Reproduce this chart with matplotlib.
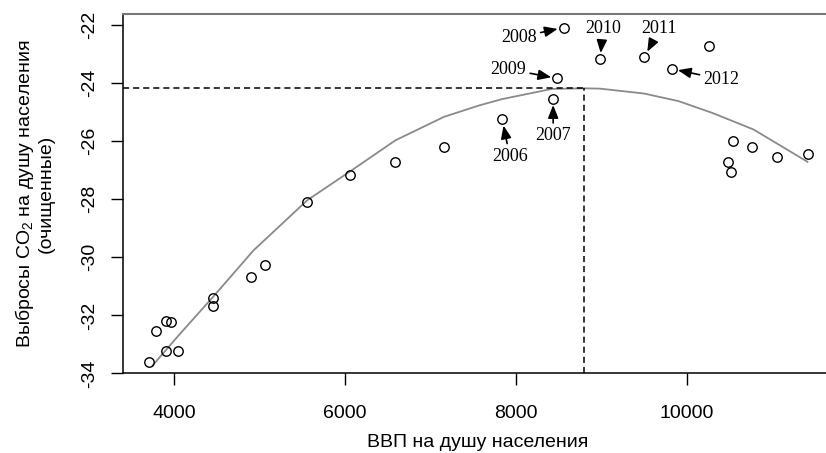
import matplotlib
matplotlib.use('Agg')
import matplotlib.pyplot as plt

# GDP per capita vs cleaned CO2 emissions per capita
gdp = [3711, 3786, 3903, 3910, 3961, 4047, 4459, 4459, 4896, 5060,
       5557, 6056, 6590, 7158, 7840, 8435, 8560, 8485, 8985, 9502,
       9822, 10262, 10479, 10518, 10536, 10758, 11054, 11414]
co2 = [-33.59, -32.55, -32.18, -33.21, -32.23, -33.21, -31.40, -31.66, -30.68, -30.25,
       -28.09, -27.15, -26.71, -26.20, -25.25, -24.54, -22.09, -23.84, -23.18, -23.11,
       -23.51, -22.72, -26.72, -27.06, -26.00, -26.21, -26.53, -26.44]
years = ['', '', '', '', '', '', '', '', '', '',
         '', '', '', '', '2006', '2007', '2008', '2009', '2010', '2011',
         '2012', '', '', '', '', '', '', '']

# fitted curve
fit_x = [3750, 4050, 4460, 4930, 5560, 6060, 6590, 7160, 7580, 7840, 8420, 8800,
         8980, 9500, 9900, 10300, 10780, 11410]
fit_y = [-33.72, -32.7, -31.35, -29.76, -28.03, -27.04, -25.97, -25.16, -24.76, -24.55,
         -24.2, -24.18, -24.19, -24.36, -24.62, -25.03, -25.6, -26.71]

peak_x = 8792
peak_y = -24.18

xticks = [4000, 6000, 8000, 10000]
yticks = [-34, -32, -30, -28, -26, -24, -22]

# label offsets (points) relative to each annotated point
label_offsets = {
    '2006': (5.3, -26.5),
    '2007': (0, -26.5),
    '2008': (-32.5, -6.9),
    '2009': (-35.5, 6.7),
    '2010': (1.9, 22),
    '2011': (10.8, 20.5),
    '2012': (36, -7.6),
}

plt.rcParams['font.family'] = ['Liberation Sans', 'DejaVu Sans']
plt.rcParams['axes.unicode_minus'] = False
plt.rcParams['mathtext.fontset'] = 'custom'
plt.rcParams['mathtext.rm'] = 'Liberation Sans'
plt.rcParams['mathtext.it'] = 'Liberation Sans'

fig = plt.figure(figsize=(8.26, 4.53), dpi=100)
ax = fig.add_axes([0.1486, 0.1755, 0.859, 0.793])

xmin, xmax = 3400, 11700
ymin, ymax = -34, -21.63

ax.plot(fit_x, fit_y, color='#8a8a8a', lw=1.3, zorder=2)
ax.plot(gdp, co2, 'o', mfc='none', mec='black', ms=6.8, mew=1.0, zorder=3)

ax.hlines(peak_y, xmin, peak_x, colors='black', lw=1.1, linestyles=(0, (4, 2.6)))
ax.vlines(peak_x, ymin, peak_y, colors='black', lw=1.1, linestyles=(0, (4, 2.6)))

for x, y, yr in zip(gdp, co2, years):
    if not yr:
        continue
    ax.annotate(yr, xy=(x, y), xytext=label_offsets[yr], textcoords='offset points',
                ha='center', va='center', fontsize=13, family='Liberation Serif',
                arrowprops=dict(arrowstyle='-|>,head_length=0.6,head_width=0.24',
                                color='black', lw=1.2, shrinkA=1, shrinkB=4.5))

ax.set_xlim(xmin, xmax)
ax.set_ylim(ymin, ymax)
ax.set_xticks(xticks)
ax.set_yticks(yticks)
ax.set_yticklabels([str(t) for t in yticks], rotation=90, va='center')
ax.tick_params(axis='both', direction='out', length=8.6, width=1.0, labelsize=14)
ax.tick_params(axis='x', pad=14)
ax.tick_params(axis='y', pad=9)

ax.spines['right'].set_visible(False)
ax.spines['top'].set_color('#777777')
ax.spines['top'].set_linewidth(1.5)
for s in ['left', 'bottom']:
    ax.spines[s].set_linewidth(1.1)

ax.set_xlabel('ВВП на душу населения', fontsize=14, labelpad=9)
ax.set_ylabel('Выбросы CO$_2$ на душу населения\n(очищенные)', fontsize=14,
              labelpad=19, linespacing=1.15)

fig.savefig('out.png', dpi=100)
